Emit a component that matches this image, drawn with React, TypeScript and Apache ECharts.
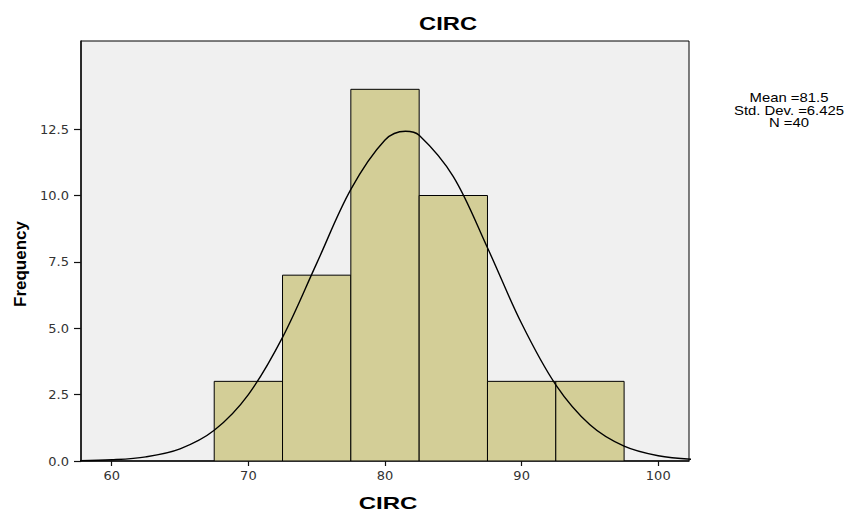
import React, { useEffect, useRef } from "react";
import * as echarts from "echarts";

const binStarts = [67.5, 72.5, 77.5, 82.5, 87.5, 92.5];
const binEnds = [72.5, 77.5, 82.5, 87.5, 92.5, 97.5];
const frequencies = [3, 7, 14, 10, 3, 3];

const curveX = [57.5, 60, 62.5, 65, 67.5, 70, 72.5, 75, 77.5, 80, 81.5, 82.5, 85, 87.5, 90, 92.5, 95, 97.5, 100, 102.5];
const curveY = [0.012, 0.046, 0.157, 0.459, 1.157, 2.503, 4.656, 7.445, 10.23, 12.09, 12.42, 12.27, 10.71, 8.03, 5.177, 2.869, 1.366, 0.559, 0.197, 0.06];

const xTicks = [60, 70, 80, 90, 100];
const yTicks = [0, 2.5, 5, 7.5, 10, 12.5];
const statsLines = ["Mean =81.5", "Std. Dev. =6.425", "N =40"];

const FONT = "'Liberation Sans', Arial, sans-serif";
const TICKFONT = "'DejaVu Sans', sans-serif";

export default function App() {
  const ref = useRef<HTMLDivElement>(null);
  useEffect(() => {
    if (!ref.current) return;
    const chart = echarts.init(ref.current, null, { renderer: "svg" });
    const histData = binStarts.map((s, i) => [s, binEnds[i], frequencies[i]]);
    const curveData = curveX.map((x, i) => [x, curveY[i]]);
    chart.setOption({
      animation: false,
      backgroundColor: "#ffffff",
      textStyle: { fontFamily: FONT },
      grid: {
        left: 81,
        right: 169,
        top: 41,
        bottom: 53,
        show: true,
        backgroundColor: "#f0f0f0",
        borderColor: "#000",
        borderWidth: 1,
      },
      xAxis: {
        type: "value",
        min: 57.75,
        max: 102.25,
        splitLine: { show: false },
        axisLine: { show: true, onZero: false, lineStyle: { color: "#111", width: 1.5 } },
        axisTick: { show: true, length: 5, lineStyle: { color: "#111", width: 1.2 }, customValues: xTicks },
        axisLabel: {
          color: "#333",
          fontSize: 13,
          fontFamily: TICKFONT,
          margin: 8,
          customValues: xTicks,
          formatter: (v: number) => String(v),
        },
      },
      yAxis: {
        type: "value",
        min: 0,
        max: 15.82,
        splitLine: { show: false },
        axisLine: { show: true, lineStyle: { color: "#111", width: 1.5 } },
        axisTick: { show: true, length: 7, lineStyle: { color: "#111", width: 1.2 }, customValues: yTicks },
        axisLabel: {
          color: "#333",
          fontSize: 13,
          fontFamily: TICKFONT,
          margin: 12,
          customValues: yTicks,
          formatter: (v: number) => v.toFixed(1),
        },
      },
      graphic: [
        {
          type: "text",
          x: 448,
          y: 24,
          scaleX: 1.32,
          style: {
            text: "CIRC",
            font: `bold 18px ${FONT}`,
            fill: "#000",
            textAlign: "center",
            textVerticalAlign: "middle",
          },
        },
        {
          type: "text",
          x: 388,
          y: 504,
          scaleX: 1.5,
          style: {
            text: "CIRC",
            font: `bold 16px ${FONT}`,
            fill: "#000",
            textAlign: "center",
            textVerticalAlign: "middle",
          },
        },
        {
          type: "text",
          x: 20,
          y: 264,
          rotation: Math.PI / 2,
          style: {
            text: "Frequency",
            font: `bold 17px ${FONT}`,
            fill: "#000",
            textAlign: "center",
            textVerticalAlign: "middle",
          },
        },
        {
          type: "text",
          x: 789,
          y: 92,
          scaleX: 1.24,
          style: {
            text: statsLines.join("\n"),
            font: `12px ${FONT}`,
            lineHeight: 12.5,
            fill: "#000",
            textAlign: "center",
            textVerticalAlign: "top",
          },
        },
      ],
      series: [
        {
          type: "custom",
          data: histData,
          encode: { x: [0, 1], y: 2 },
          clip: true,
          renderItem: (params: any, api: any) => {
            const p0 = api.coord([api.value(0), api.value(2)]);
            const p1 = api.coord([api.value(1), 0]);
            return {
              type: "rect",
              shape: { x: p0[0], y: p0[1], width: p1[0] - p0[0], height: p1[1] - p0[1] },
              style: { fill: "#d3ce97", stroke: "#000", lineWidth: 1 },
            };
          },
        },
        {
          type: "line",
          data: curveData,
          smooth: 0.35,
          symbol: "none",
          clip: true,
          lineStyle: { color: "#000", width: 1.4 },
          z: 5,
        },
      ],
    });
    return () => chart.dispose();
  }, []);
  return (
    <div
      ref={ref}
      style={{ position: "fixed", left: 0, top: 0, width: 858, height: 514 }}
    />
  );
}
